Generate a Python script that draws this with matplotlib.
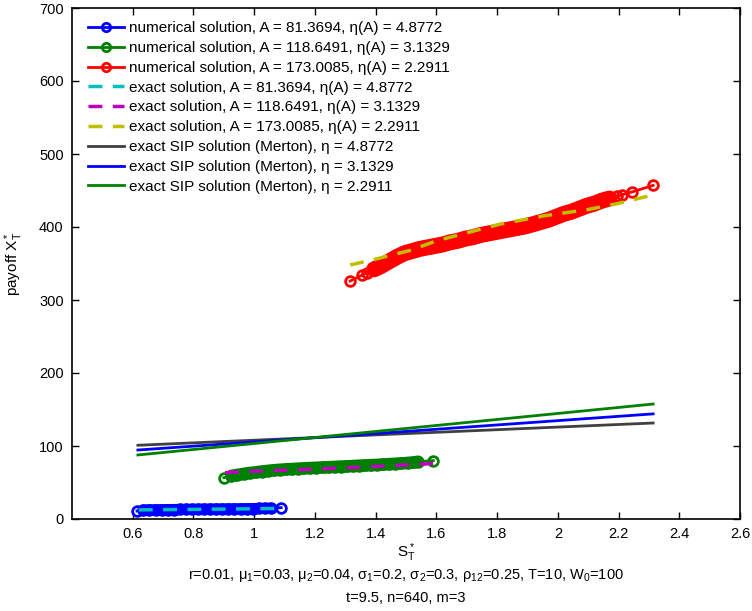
import matplotlib
matplotlib.use("Agg")
import matplotlib.pyplot as plt

plt.rcParams['font.family'] = ['Liberation Sans', 'DejaVu Sans']
plt.rcParams['mathtext.fontset'] = 'custom'
plt.rcParams['mathtext.rm'] = 'Liberation Sans'
plt.rcParams['mathtext.it'] = 'Liberation Sans'
plt.rcParams['mathtext.bf'] = 'Liberation Sans:bold'

# ---- data ----
num1_x = [0.614, 0.635, 0.655, 0.675, 0.695, 0.715, 0.735, 0.755, 0.775, 0.795, 0.815, 0.835,
          0.855, 0.875, 0.895, 0.915, 0.935, 0.955, 0.975, 0.995, 1.015, 1.035, 1.055, 1.089]
num1_y = [11.0, 12.4, 12.6, 12.7, 12.8, 12.9, 13.0, 13.1, 13.2, 13.3, 13.4, 13.5,
          13.6, 13.7, 13.8, 13.9, 14.0, 14.1, 14.2, 14.3, 14.4, 14.6, 14.8, 15.5]

num2_x = [0.900, 0.925, 0.945, 0.965, 0.985, 1.005, 1.025, 1.045, 1.065, 1.085, 1.105, 1.125,
          1.145, 1.165, 1.185, 1.205, 1.225, 1.245, 1.265, 1.285, 1.305, 1.325, 1.345, 1.365,
          1.385, 1.405, 1.425, 1.445, 1.465, 1.485, 1.505, 1.525, 1.540, 1.590]
num2_y = [56.6, 59.0, 60.5, 61.8, 63.0, 64.0, 65.0, 66.0, 66.8, 67.5, 68.0, 68.5,
          69.0, 69.4, 69.8, 70.2, 70.6, 71.0, 71.4, 71.8, 72.2, 72.6, 73.0, 73.4,
          73.8, 74.2, 74.7, 75.2, 75.7, 76.2, 76.8, 77.5, 78.5, 80.0]

num3_x = [1.316, 1.355, 1.370, 1.395, 1.420, 1.445, 1.470, 1.495, 1.520, 1.545, 1.570, 1.595,
          1.620, 1.645, 1.670, 1.695, 1.720, 1.745, 1.770, 1.795, 1.820, 1.845, 1.870, 1.895,
          1.920, 1.945, 1.970, 1.995, 2.020, 2.045, 2.070, 2.095, 2.120, 2.145, 2.170, 2.195,
          2.211, 2.244, 2.314]
num3_y = [326, 334, 337, 342, 347, 353, 359, 364, 367, 370, 372, 374,
          376, 379, 381, 384, 386, 389, 391, 393, 395, 397, 399, 401,
          404, 407, 410, 414, 418, 421, 425, 429, 432, 436, 439, 442,
          444, 448, 457]

ex1_x = [0.620, 0.800, 1.000, 1.080]
ex1_y = [12.5, 13.2, 14.0, 14.5]
ex2_x = [0.904, 1.000, 1.240, 1.450, 1.590]
ex2_y = [63.5, 65.5, 69.0, 73.0, 76.0]
ex3_x = [1.316, 1.400, 1.514, 1.600, 1.700, 1.810, 1.950, 2.100, 2.196, 2.314]
ex3_y = [348, 356, 368, 381, 392, 404, 415, 424, 432, 444]

sip_x = [0.617, 1.500, 2.314]
sip1_y = [101.0, 117.0, 131.5]
sip2_y = [94.5, 120.0, 144.0]
sip3_y = [87.7, 124.0, 157.5]

xticks = [0.6, 0.8, 1.0, 1.2, 1.4, 1.6, 1.8, 2.0, 2.2, 2.4, 2.6]
xticklabels = ['0.6', '0.8', '1', '1.2', '1.4', '1.6', '1.8', '2', '2.2', '2.4', '2.6']
yticks = [0, 100, 200, 300, 400, 500, 600, 700]

labels = ['numerical solution, A = 81.3694, η(A) = 4.8772',
          'numerical solution, A = 118.6491, η(A) = 3.1329',
          'numerical solution, A = 173.0085, η(A) = 2.2911',
          'exact solution, A = 81.3694, η(A) = 4.8772',
          'exact solution, A = 118.6491, η(A) = 3.1329',
          'exact solution, A = 173.0085, η(A) = 2.2911',
          'exact SIP solution (Merton), η = 4.8772',
          'exact SIP solution (Merton), η = 3.1329',
          'exact SIP solution (Merton), η = 2.2911']

c_blue = (0, 0, 1)
c_green = (0, 0.5, 0)
c_red = (1, 0, 0)
c_cyan = (0, 0.75, 0.75)
c_mag = (0.75, 0, 0.75)
c_yel = (0.75, 0.75, 0)
c_gray = (0.25, 0.25, 0.25)

fig = plt.figure(figsize=(7.52, 6.11), dpi=100)
ax = fig.add_axes([72/752, 92/611, 668/752, 511/611])

mk = dict(marker='o', markerfacecolor='none', markersize=7, markeredgewidth=2, linewidth=2)
h1, = ax.plot(num1_x, num1_y, color=c_blue, **mk)
h2, = ax.plot(num2_x, num2_y, color=c_green, **mk)
h3, = ax.plot(num3_x, num3_y, color=c_red, **mk)
# dense overlapping markers of the numerical solutions form a solid band
ax.plot(num1_x[1:-1], num1_y[1:-1], color=c_blue, linewidth=8, solid_capstyle='round', zorder=2.1)
ax.plot(num2_x[1:-1], num2_y[1:-1], color=c_green, linewidth=9, solid_capstyle='round', zorder=2.1)
ax.plot(num3_x[3:-4], num3_y[3:-4], color=c_red, linewidth=11.5, solid_capstyle='round', zorder=2.1)
h4, = ax.plot(ex1_x, ex1_y, color=c_cyan, linestyle='--', linewidth=2.5, dashes=(4, 3), zorder=3)
h5, = ax.plot(ex2_x, ex2_y, color=c_mag, linestyle='--', linewidth=2.5, dashes=(4, 3), zorder=3)
h6, = ax.plot(ex3_x, ex3_y, color=c_yel, linestyle='--', linewidth=2.5, dashes=(4, 3), zorder=3)
h7, = ax.plot(sip_x, sip1_y, color=c_gray, linewidth=2)
h8, = ax.plot(sip_x, sip2_y, color=c_blue, linewidth=2)
h9, = ax.plot(sip_x, sip3_y, color=c_green, linewidth=2)

ax.set_xlim(0.4, 2.6)
ax.set_ylim(0, 700)
ax.set_xticks(xticks)
ax.set_xticklabels(xticklabels)
ax.set_yticks(yticks)
ax.tick_params(direction='in', top=True, right=True, length=5, width=1, labelsize=10.5, pad=6)
for s in ax.spines.values():
    s.set_linewidth(1.2)

ax.set_ylabel('payoff X$_T^*$', fontsize=11, labelpad=10)
ax.set_xlabel('S$_T^*$', fontsize=11, labelpad=0)
fig.text((72+740)/2/752, 1-576/611, 'r=0.01, μ$_1$=0.03, μ$_2$=0.04, σ$_1$=0.2, σ$_2$=0.3, ρ$_{12}$=0.25, T=10, W$_0$=100',
         ha='center', va='center', fontsize=10.5)
fig.text((72+740)/2/752, 1-598/611, 't=9.5, n=640, m=3', ha='center', va='center', fontsize=10.5)

leg = ax.legend([h1, h2, h3, h4, h5, h6, h7, h8, h9], labels, loc='upper left',
                bbox_to_anchor=(0.008, 0.995), frameon=False, fontsize=11,
                handlelength=2.35, handletextpad=0.35, labelspacing=0.38, borderaxespad=0.3)
for lh in leg.get_lines()[:3]:
    lh.set_markersize(6)

fig.savefig('out.png', dpi=100)
